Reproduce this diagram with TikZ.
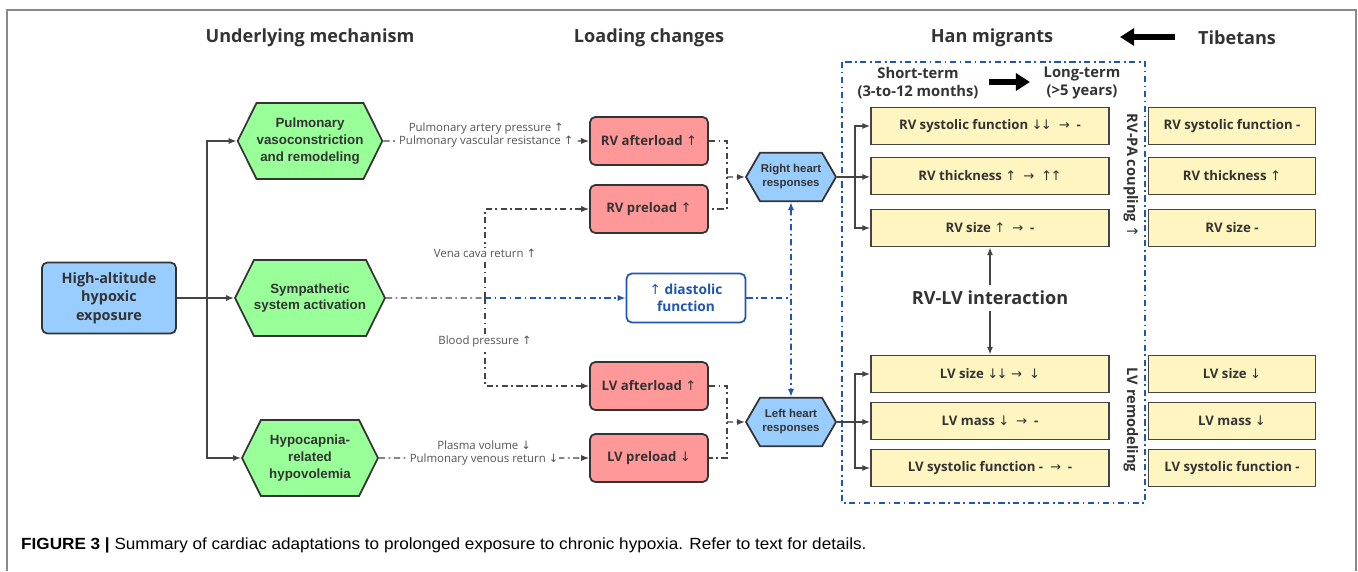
\documentclass[tikz,border=0pt]{standalone}
\usepackage{fontspec}
\setmainfont{Open Sans}
\newfontfamily\arialfont{Liberation Sans}
\newfontfamily\capfont[FakeStretch=1.06]{Liberation Sans}
\newfontfamily\symfont{DejaVu Sans}
\usetikzlibrary{arrows.meta, shapes.symbols, positioning}

\definecolor{hiblue}{HTML}{99CCFF}
\definecolor{hexgreen}{HTML}{99FF99}
\definecolor{loadred}{HTML}{FF9999}
\definecolor{respyellow}{HTML}{FFF5C0}
\definecolor{inkgray}{HTML}{333333}
\definecolor{linegray}{HTML}{444444}
\definecolor{labgray}{HTML}{555555}
\definecolor{dashblue}{HTML}{1F55B5}
\definecolor{framegray}{HTML}{8A8A8A}

\newcommand{\arUp}{{\symfont\mdseries\char"2191}}
\newcommand{\arDn}{{\symfont\mdseries\char"2193}}
\newcommand{\arRt}{{\symfont\mdseries\char"2192}}

\begin{document}
\begin{tikzpicture}[
    x=0.02cm, y=-0.02cm,
    every node/.style={text=inkgray},
    header/.style={font=\fontsize{10.3}{12}\selectfont\bfseries},
    exposure/.style={
        rectangle,
        rounded corners=3pt,
        draw=inkgray, line width=1pt,
        fill=hiblue,
        minimum width=2.68cm,
        minimum height=1.42cm,
        align=center,
        font=\fontsize{8.2}{10.4}\selectfont\bfseries
    },
    mechanism/.style={
        signal, signal to=west and east,
        signal pointer angle=127,
        draw=inkgray, line width=1pt,
        fill=hexgreen,
        minimum width=2.72cm,
        minimum height=1.52cm,
        inner sep=0pt,
        align=center,
        font=\arialfont\fontsize{7.6}{9.6}\selectfont\bfseries
    },
    load/.style={
        rectangle,
        rounded corners=3pt,
        draw=inkgray, line width=1pt,
        fill=loadred,
        minimum width=2.36cm,
        minimum height=0.96cm,
        font=\fontsize{7.5}{9}\selectfont\bfseries
    },
    heart/.style={
        signal, signal to=west and east,
        signal pointer angle=120,
        draw=inkgray, line width=1pt,
        fill=hiblue,
        minimum width=1.8cm,
        minimum height=0.97cm,
        inner sep=0pt,
        align=center,
        font=\arialfont\fontsize{6.5}{8}\selectfont\bfseries
    },
    diastolic/.style={
        rectangle,
        rounded corners=3pt,
        draw=dashblue, line width=1pt,
        fill=white,
        text=dashblue,
        minimum width=2.38cm,
        minimum height=0.98cm,
        align=center,
        font=\fontsize{7.8}{10}\selectfont\bfseries
    },
    han/.style={
        rectangle,
        draw=linegray, line width=0.9pt,
        fill=respyellow,
        minimum width=4.76cm,
        minimum height=0.74cm,
        font=\fontsize{7.5}{8.5}\selectfont\bfseries
    },
    tib/.style={han, minimum width=3.34cm},
    period/.style={align=center, font=\fontsize{8.4}{10}\selectfont\bfseries},
    side/.style={rotate=-90, font=\fontsize{8.3}{10}\selectfont\bfseries},
    cue/.style={fill=white, inner sep=0.6pt, align=center, text=labgray,
        font=\fontsize{6.5}{7.6}\selectfont},
    flow/.style={draw=linegray, line width=1.1pt, -{Latex[length=4.5pt,width=3.5pt]}},
    dashdot/.style={draw=linegray, line width=0.8pt,
        dash pattern=on 3.5pt off 2pt on 1pt off 2pt},
    dtip/.style={-{Latex[length=4.5pt,width=3.5pt]}},
    bluedash/.style={draw=dashblue, line width=1pt,
        dash pattern=on 3.5pt off 2pt on 1pt off 2pt},
    boldarrow/.style={draw=black, line width=3.4pt, -{Triangle[length=8pt,width=9.6pt]}}
]
\useasboundingbox (0,0) rectangle (1358,571);

% outer frame
\draw[framegray, line width=0.9pt] (7,571) -- (7,10) -- (1356,10) -- (1356,571);

% column headers
\node[header] (hmech) at (310,38) {Underlying mechanism};
\node[header] (hload) at (649,38) {Loading changes};
\node[header] (hhan)  at (992,38) {Han migrants};
\node[header] (htib)  at (1237,38) {Tibetans};

% exposure and mechanisms
\node[exposure] (expo) at (109,298) {High-altitude\\hypoxic\\exposure};

\node[mechanism] (pulm) at (310,141) {Pulmonary\\vasoconstriction\\and remodeling};
\node[mechanism] (symp) at (310,298) {Sympathetic\\system activation};
\node[mechanism] (hypo) at (310,458) {Hypocapnia-\\related\\hypovolemia};

% loading changes
\node[load] (rvafter) at (649,141) {RV afterload \arUp};
\node[load] (rvpre)   at (649,209) {RV preload \arUp};
\node[load] (lvafter) at (649,386) {LV afterload \arUp};
\node[load] (lvpre)   at (649,458) {LV preload \arDn};

\node[diastolic] (diast) at (686,298) {\arUp\ diastolic\\function};

\node[heart] (rheart) at (791,177) {Right heart\\responses};
\node[heart] (lheart) at (791,422) {Left heart\\responses};

% Han migrants
\node[period] (short) at (918,83) {Short-term\\(3-to-12 months)};
\node[period] (long)  at (1082,83) {Long-term\\(>5 years)};

\node[han] (rvsys)   at (990,126) {RV systolic function \arDn\kern-1pt\arDn\ \ \arRt\ \ -};
\node[han] (rvthick) at (990,176) {RV thickness \arUp\ \ \arRt\ \ \arUp\kern-1pt\arUp};
\node[han] (rvsize)  at (990,228) {RV size \arUp\ \ \arRt\ \ -};
\node[han] (lvsize)  at (990,374) {LV size \arDn\kern-1pt\arDn\ \arRt\ \ \arDn};
\node[han] (lvmass)  at (990,421) {LV mass \arDn\ \ \arRt\ \ -};
\node[han] (lvsys)   at (990,468) {LV systolic function -\ \ \arRt\ \ -};

\node[font=\fontsize{10.3}{12}\selectfont\bfseries, inner sep=3.5pt] (rvlv) at (990,298) {RV-LV interaction};

\node[side] (rvpa)  at (1131,176) {RV-PA coupling \arUp};
\node[side] (lvrem) at (1131,420) {LV remodeling};

% Tibetans
\node[tib] (trvsys)   at (1232,126) {RV systolic function -};
\node[tib] (trvthick) at (1232,176) {RV thickness \arUp};
\node[tib] (trvsize)  at (1232,228) {RV size -};
\node[tib] (tlvsize)  at (1232,374) {LV size \arDn};
\node[tib] (tlvmass)  at (1232,421) {LV mass \arDn};
\node[tib] (tlvsys)   at (1232,468) {LV systolic function -};

% group frame
\draw[bluedash] (842,62) rectangle (1145,503);

% junctions
\coordinate (msplit) at (207,298);
\coordinate (vsplit) at (485,298);
\coordinate (rjoin)  at (727,177);
\coordinate (ljoin)  at (727,422);
\coordinate (dmeet)  at (791,298);
\coordinate (rsplit) at (855,177);
\coordinate (lsplit) at (855,422);
\coordinate (tibtail)  at (1175,37);
\coordinate (tibhead)  at (1120,37);
\coordinate (termtail) at (989,82);
\coordinate (termhead) at (1030,82);

% Arrows
\draw[flow] (expo) -- (symp);
\draw[flow] (msplit) |- (pulm);
\draw[flow] (msplit) |- (hypo);

\draw[dashdot, dtip] (pulm) -- node[cue, yshift=0.12cm]
    {Pulmonary artery pressure \arUp\\Pulmonary vascular resistance \arUp} (rvafter);
\draw[dashdot] (symp) -- (vsplit);
\draw[bluedash, dtip] (vsplit) -- (diast);
\draw[dashdot, dtip] (vsplit) |- node[cue, pos=0.25] {Vena cava return \arUp} (rvpre);
\draw[dashdot, dtip] (vsplit) |- node[cue, pos=0.25] {Blood pressure \arUp} (lvafter);
\draw[dashdot, dtip] (hypo) -- node[cue, yshift=0.1cm]
    {Plasma volume \arDn\\Pulmonary venous return \arDn} (lvpre);

\draw[dashdot] (rvafter) -| (rjoin) |- (rvpre);
\draw[dashdot, dtip] (rjoin) -- (rheart);
\draw[dashdot] (lvafter) -| (ljoin) |- (lvpre);
\draw[dashdot, dtip] (ljoin) -- (lheart);

\draw[bluedash] (diast) -- (dmeet);
\draw[bluedash, {Latex[length=4.5pt,width=3.5pt]}-{Latex[length=4.5pt,width=3.5pt]}] (rheart) -- (lheart);

\draw[flow, -] (rheart) -- (rsplit);
\draw[flow] (rsplit) |- (rvsys);
\draw[flow] (rsplit) -- (rvthick);
\draw[flow] (rsplit) |- (rvsize);
\draw[flow, -] (lheart) -- (lsplit);
\draw[flow] (lsplit) |- (lvsize);
\draw[flow] (lsplit) -- (lvmass);
\draw[flow] (lsplit) |- (lvsys);

\draw[flow] (rvlv) -- (rvsize);
\draw[flow] (rvlv) -- (lvsize);

\draw[boldarrow] (tibtail) -- (tibhead);
\draw[boldarrow] (termtail) -- (termhead);

% caption
\node[anchor=west, text=black, font=\capfont\fontsize{9.2}{11}\selectfont] (caption) at (15,545)
    {\textbf{FIGURE 3 |} Summary of cardiac adaptations to prolonged exposure to chronic hypoxia. Refer to text for details.};

\end{tikzpicture}
\end{document}
